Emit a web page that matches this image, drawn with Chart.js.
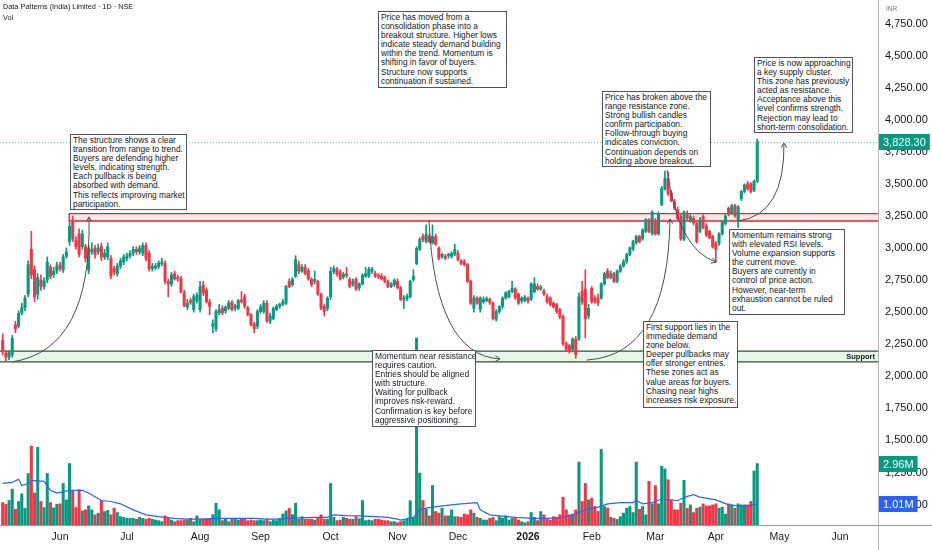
<!DOCTYPE html>
<html>
<head>
<meta charset="utf-8">
<script src="https://cdn.jsdelivr.net/npm/chart.js@4.4.1/dist/chart.umd.min.js"></script>
<style>
  html,body{margin:0;padding:0;background:#fff;}
  #wrap{position:relative;width:932px;height:550px;overflow:hidden;}
  canvas{position:absolute;left:0;top:0;}
  .t{position:absolute;font-family:"Liberation Sans",Arial,sans-serif;color:#131722;white-space:nowrap;}
  .note{position:absolute;box-sizing:border-box;background:#fff;border:1px solid #50535e;
        font-family:"Liberation Sans",Arial,sans-serif;font-size:8.4px;line-height:9.1px;color:#131722;
        padding:1px 2px;white-space:nowrap;}
</style>
</head>
<body>
<div id="wrap">
  <canvas id="c" width="932" height="550"></canvas>
  <div class="t" style="left:3px;top:2px;font-size:7.3px;">Data Patterns (India) Limited · 1D · NSE</div>
  <div class="t" style="left:3px;top:13px;font-size:7.3px;">Vol</div>

  <div class="note" style="left:70px;top:134px;width:117px;height:76px;">The structure shows a clear<br>transition from range to trend.<br>Buyers are defending higher<br>levels, indicating strength.<br>Each pullback is being<br>absorbed with demand.<br>This reflects improving market<br>participation.</div>
  <div class="note" style="left:378px;top:11px;width:129px;height:77px;">Price has moved from a<br>consolidation phase into a<br>breakout structure. Higher lows<br>indicate steady demand building<br>within the trend. Momentum is<br>shifting in favor of buyers.<br>Structure now supports<br>continuation if sustained.</div>
  <div class="note" style="left:602px;top:91px;width:109px;height:76px;">Price has broken above the<br>range resistance zone.<br>Strong bullish candles<br>confirm participation.<br>Follow-through buying<br>indicates conviction.<br>Continuation depends on<br>holding above breakout.</div>
  <div class="note" style="left:754px;top:57px;width:99px;height:76px;">Price is now approaching<br>a key supply cluster.<br>This zone has previously<br>acted as resistance.<br>Acceptance above this<br>level confirms strength.<br>Rejection may lead to<br>short-term consolidation.</div>
  <div class="note" style="left:729px;top:229px;width:116px;height:86px;">Momentum remains strong<br>with elevated RSI levels.<br>Volume expansion supports<br>the current move.<br>Buyers are currently in<br>control of price action.<br>However, near-term<br>exhaustion cannot be ruled<br>out.</div>
  <div class="note" style="left:643px;top:321px;width:95px;height:87px;">First support lies in the<br>immediate demand<br>zone below.<br>Deeper pullbacks may<br>offer stronger entries.<br>These zones act as<br>value areas for buyers.<br>Chasing near highs<br>increases risk exposure.</div>
  <div class="note" style="left:372px;top:350px;width:104px;height:77px;">Momentum near resistance<br>requires caution.<br>Entries should be aligned<br>with structure.<br>Waiting for pullback<br>improves risk-reward.<br>Confirmation is key before<br>aggressive positioning.</div>
</div>
<script>
// ---------------- DATA ----------------
const opens = [2280,2180,2150,2170,2400,2390,2495,2535,2640,2990,2830,2640,2750,2700,2750,2850,2790,2820,2870,2830,
2935,3050,3200,3060,3110,3010,3010,2830,2970,3000,2970,3010,2930,2930,2920,2840,2800,2860,2890,2920,
2940,2960,2990,2970,2960,3020,2960,2840,2845,2855,2880,2880,2740,2720,2800,2770,2760,2650,2540,2590,
2520,2590,2520,2710,2670,2580,2390,2370,2495,2530,2510,2530,2575,2530,2530,2595,2620,2530,2480,2410,
2390,2505,2505,2570,2430,2450,2520,2545,2560,2570,2740,2715,2780,2870,2820,2850,2820,2755,2740,2740,
2640,2545,2530,2620,2817,2835,2817,2775,2800,2755,2715,2755,2690,2720,2780,2780,2820,2805,2790,2780,
2770,2740,2700,2715,2740,2690,2600,2605,2620,2755,2880,2990,3090,3050,3090,3040,3090,3000,2935,2935,
2940,2935,2950,2960,2900,2895,2870,2740,2530,2610,2520,2580,2590,2600,2570,2445,2505,2545,2610,2620,
2660,2680,2640,2590,2590,2610,2600,2660,2700,2680,2665,2620,2610,2570,2560,2520,2466,2255,2240,2210,
2290,2290,2660,2680,2470,2685,2610,2610,2610,2720,2820,2770,2800,2740,2820,2860,2895,2950,2995,3040,
3090,3070,3130,3220,3110,3210,3110,3340,3460,3540,3430,3360,3300,3245,3070,3270,3210,3230,3190,3130,
3245,3170,3130,3090,3040,3040,3110,3190,3310,3270,3330,3210,3385,3440,3500,3500,3450,3520];
const highs = [2330,2200,2200,2320,2430,2510,2570,2630,2900,3130,2860,2800,2790,2770,2930,2870,2850,2890,2890,2950,
3000,3200,3250,3090,3150,3140,3030,3020,3040,3020,3030,3040,2990,3040,2940,2860,2880,2920,2950,2960,
2980,3010,3010,3020,3040,3040,2980,2880,2880,2900,2920,2900,2760,2810,2820,2790,2780,2670,2600,2610,
2640,2650,2740,2740,2690,2600,2440,2520,2560,2550,2550,2590,2590,2560,2600,2660,2640,2545,2490,2420,
2520,2560,2590,2590,2490,2540,2560,2570,2600,2710,2760,2770,2940,2900,2870,2870,2840,2770,2820,2750,
2650,2560,2620,2850,2860,2850,2830,2810,2850,2770,2760,2770,2730,2800,2850,2850,2850,2820,2800,2800,
2780,2750,2730,2760,2760,2700,2630,2640,2750,2830,3010,3080,3110,3180,3110,3180,3110,3010,2960,2950,
2960,2970,3030,2980,2910,2910,2880,2750,2630,2620,2620,2620,2620,2610,2580,2520,2550,2620,2660,2670,
2740,2690,2650,2620,2630,2620,2730,2770,2720,2710,2680,2640,2620,2580,2570,2530,2480,2270,2250,2300,
2310,2650,2740,2830,2560,2700,2630,2640,2730,2810,2840,2820,2810,2830,2870,2910,2960,3010,3060,3100,
3100,3150,3230,3230,3290,3230,3280,3480,3600,3590,3450,3380,3320,3260,3290,3290,3260,3250,3200,3240,
3260,3190,3140,3100,3050,3120,3210,3260,3320,3340,3340,3330,3450,3500,3520,3510,3530,3850];
const lows = [2170,2120,2130,2150,2340,2380,2480,2510,2620,2760,2580,2600,2670,2680,2730,2760,2770,2800,2820,2810,
2920,3020,3050,2990,2930,2990,2890,2800,2950,2920,2950,2900,2910,2910,2760,2790,2780,2840,2870,2900,
2920,2940,2950,2950,2940,2900,2820,2820,2830,2840,2860,2720,2620,2700,2750,2740,2650,2540,2520,2560,
2500,2570,2500,2630,2570,2480,2340,2350,2480,2480,2490,2520,2510,2510,2520,2570,2530,2470,2390,2340,
2370,2490,2490,2420,2410,2440,2510,2530,2550,2560,2690,2700,2770,2800,2810,2790,2750,2700,2720,2630,
2520,2470,2510,2600,2800,2780,2750,2760,2770,2690,2700,2670,2670,2710,2770,2770,2800,2770,2760,2750,
2730,2690,2690,2700,2680,2590,2530,2590,2610,2740,2870,2980,3050,3040,3040,3030,3020,2910,2920,2910,
2920,2920,2940,2900,2870,2860,2730,2560,2500,2560,2500,2570,2580,2560,2440,2430,2490,2530,2600,2610,
2650,2600,2560,2570,2580,2570,2590,2650,2670,2670,2630,2570,2550,2530,2490,2450,2240,2200,2180,2190,
2140,2280,2560,2300,2450,2570,2570,2550,2600,2710,2760,2760,2730,2730,2810,2850,2880,2940,2980,3030,
3040,3060,3120,3120,3100,3100,3100,3330,3450,3410,3360,3300,3220,3060,3060,3220,3200,3180,3040,3120,
3150,3090,3070,3000,2890,3020,3100,3180,3250,3260,3240,3160,3370,3430,3450,3430,3440,3510];
const closes = [2190,2150,2185,2295,2370,2490,2535,2610,2870,2790,2620,2770,2700,2745,2890,2780,2820,2860,2840,2930,
2970,3170,3070,3010,2950,3110,2920,3000,2990,2950,3000,2930,2960,3010,2780,2810,2860,2900,2930,2940,
2960,2990,2970,3000,3020,2920,2840,2855,2860,2885,2890,2740,2720,2790,2760,2760,2660,2550,2570,2575,
2620,2630,2700,2650,2580,2545,2410,2505,2520,2495,2540,2575,2520,2550,2590,2580,2545,2480,2400,2370,
2505,2540,2570,2430,2470,2530,2545,2560,2580,2700,2700,2755,2910,2820,2850,2800,2760,2715,2755,2640,
2530,2505,2610,2817,2840,2795,2760,2795,2785,2700,2740,2680,2720,2790,2800,2835,2835,2780,2780,2760,
2740,2700,2720,2750,2690,2600,2610,2625,2740,2780,2995,3065,3065,3105,3050,3090,3030,2920,2950,2920,
2950,2960,2990,2910,2880,2870,2740,2570,2610,2570,2610,2600,2605,2575,2450,2505,2545,2610,2650,2660,
2685,2610,2570,2610,2615,2585,2720,2720,2680,2695,2640,2580,2560,2540,2505,2465,2250,2210,2195,2290,
2170,2620,2580,2450,2530,2580,2585,2570,2720,2800,2770,2800,2740,2820,2860,2895,2950,3000,3050,3090,
3050,3140,3220,3130,3280,3110,3270,3465,3540,3425,3370,3310,3230,3070,3280,3235,3245,3195,3050,3220,
3160,3100,3080,3010,2990,3110,3200,3250,3265,3330,3250,3320,3440,3490,3460,3440,3520,3828.3];
// volume in millions
const volume = [1.08,1.0,1.18,1.73,0.76,1.13,1.5,0.8,2.48,3.8,1.54,3.74,1.13,0.84,2.48,1.08,0.83,1.0,1.02,2.0,
1.21,2.96,1.62,0.84,1.7,0.68,0.73,0.92,0.73,0.49,0.57,1.18,0.65,0.7,0.49,0.81,0.6,0.4,0.37,0.32,
0.32,0.32,0.28,0.37,0.32,0.28,0.32,0.28,0.24,0.21,0.16,0.44,0.37,0.24,0.16,0.21,0.21,0.24,0.24,0.32,
0.16,0.44,0.28,0.28,0.28,0.3,0.5,1.05,0.73,0.21,0.28,0.16,0.28,0.28,0.24,0.28,0.28,0.21,0.24,0.21,
0.21,0.24,0.21,0.28,0.16,0.24,0.21,0.32,0.53,0.68,0.8,0.5,1.05,0.28,0.4,0.28,0.28,0.28,0.24,0.32,
0.49,0.28,0.28,2.0,0.37,0.21,0.24,0.37,0.32,0.28,0.28,0.4,0.3,1.18,0.21,0.24,0.21,0.28,0.28,0.24,
0.21,0.21,0.16,0.16,0.11,0.16,0.21,0.28,1.17,0.37,9.0,2.5,1.18,0.76,0.44,1.9,0.65,0.57,0.81,0.44,
0.44,0.73,0.4,0.4,0.37,0.53,0.49,0.73,0.57,0.37,0.32,0.24,0.24,0.32,0.37,0.21,0.4,0.32,0.44,0.24,
0.32,0.37,0.24,0.16,0.11,0.16,0.6,0.37,0.21,0.65,0.49,0.32,0.24,0.4,0.37,0.5,1.34,0.73,0.49,0.53,
0.73,3.03,1.13,2.0,1.21,1.29,0.89,0.65,3.64,0.89,0.81,0.37,0.32,0.27,0.4,0.57,0.81,0.89,0.6,3.03,
0.76,0.89,0.49,2.1,1.02,1.9,1.02,2.83,2.7,2.18,1.21,0.73,0.73,1.05,2.15,0.81,0.97,0.6,0.81,0.86,
1.02,0.92,0.92,0.97,1.02,0.81,0.86,0.53,1.02,0.97,0.81,1.02,0.97,0.97,0.97,1.13,2.6,2.96];
// volume moving average (read at these candle indices)
const maIdx = [0,3,5,6,8,9,13,15,17,21,25,27,31,34,37,41,45,49,54,58,62,66,70,75,79,83,87,89,93,98,
102,104,108,112,117,121,124,125,129,131,133,138,144,149,150,153,156,161,167,171,176,179,183,187,190,194,198,199,201,204,
207,212,215,217,219,224,228,231,234,237];
const maVal = [2.0,2.05,2.2,1.9,2.0,2.15,2.1,1.67,1.54,1.67,1.67,1.54,1.18,1.13,1.02,0.73,0.49,0.4,0.32,0.28,
0.28,0.31,0.32,0.32,0.32,0.28,0.28,0.32,0.34,0.37,0.37,0.49,0.45,0.44,0.4,0.37,0.28,0.24,0.37,0.73,
0.81,0.92,1.02,1.08,0.73,0.49,0.44,0.37,0.32,0.32,0.37,0.49,0.73,0.86,1.02,1.08,1.08,1.18,1.02,1.08,
1.25,1.18,1.38,1.46,1.34,1.21,0.97,0.92,0.92,1.01];
// time axis labels at candle index
const monthIdx = [18,39,62,81,103,124,143,165,185,205,224,244,263];
const monthLabels = ['Jun','Jul','Aug','Sep','Oct','Nov','Dec','2026','Feb','Mar','Apr','May','Jun'];
// price ticks
const priceTicks = [1000,1250,1500,1750,2000,2250,2500,2750,3000,3250,3500,3750,4000,4250,4500,4750];
// zones (price levels)
const resistZone = {fromIdx: 20.9, top: 3268, bottom: 3211};
const supportZone = {top: 2196, bottom: 2112};
// curved arrows in (candle index, price): start, control, end
const arrows = [
  [[2.9,2112],[28.1,2205],[27.1,3242]],
  [[133.9,3218],[135.8,2166],[156.2,2135]],
  [[183.5,2127],[209.0,2166],[209.6,3226]],
  [[208.7,3608],[212.1,2985],[224.1,2891]],
  [[231.0,3211],[245.7,3257],[245.4,3818]]
];
// ---------------- CHART ----------------
const UP = '#089981', DOWN = '#f23645';
const FONT = '"Liberation Sans", Arial, sans-serif';
const N = closes.length;
const idx = Array.from({length: N}, (_, i) => i);
const candleColor = (c) => closes[c.dataIndex] >= opens[c.dataIndex] ? UP : DOWN;
const noPad = (s) => { s.paddingTop = 0; s.paddingBottom = 0; s.paddingLeft = 0; s.paddingRight = 0; };

const overlay = {
  id: 'overlay',
  beforeDatasetsDraw(chart) {
    const {ctx, chartArea: a, scales: {x, y}} = chart;
    ctx.save();
    // support zone
    let t = y.getPixelForValue(supportZone.top), b = y.getPixelForValue(supportZone.bottom);
    ctx.fillStyle = 'rgba(76,175,80,0.13)';
    ctx.fillRect(a.left, t, a.right - a.left, b - t);
    ctx.strokeStyle = '#1e5e2a'; ctx.lineWidth = 1.2;
    ctx.beginPath(); ctx.moveTo(a.left, t); ctx.lineTo(a.right, t); ctx.moveTo(a.left, b); ctx.lineTo(a.right, b); ctx.stroke();
    // resistance zone
    const l = x.getPixelForValue(resistZone.fromIdx);
    t = y.getPixelForValue(resistZone.top); b = y.getPixelForValue(resistZone.bottom);
    ctx.fillStyle = 'rgba(242,54,69,0.10)';
    ctx.fillRect(l, t, a.right - l, b - t);
    ctx.strokeStyle = '#f01e2c'; ctx.lineWidth = 1.4;
    ctx.beginPath(); ctx.moveTo(a.right, t); ctx.lineTo(l, t); ctx.lineTo(l, b); ctx.lineTo(a.right, b); ctx.stroke();
    ctx.restore();
  },
  afterDatasetsDraw(chart) {
    const {ctx, chartArea: a, scales: {x, y}} = chart;
    ctx.save();
    // last price dotted line
    const ly = Math.round(y.getPixelForValue(closes[N - 1])) + 0.5;
    ctx.strokeStyle = 'rgba(8,153,129,0.55)'; ctx.lineWidth = 1; ctx.setLineDash([1, 2]);
    ctx.beginPath(); ctx.moveTo(a.left, ly); ctx.lineTo(a.right, ly); ctx.stroke();
    ctx.setLineDash([]);
    // Support label
    const sm = (y.getPixelForValue(supportZone.top) + y.getPixelForValue(supportZone.bottom)) / 2;
    ctx.font = 'bold 7.5px ' + FONT; ctx.fillStyle = '#131722'; ctx.textAlign = 'right'; ctx.textBaseline = 'middle';
    ctx.fillText('Support', a.right - 3, sm + 0.5);
    // arrows
    ctx.strokeStyle = '#4a4d57'; ctx.lineWidth = 1;
    arrows.forEach(([p0, c, p2]) => {
      const P0 = [x.getPixelForValue(p0[0]), y.getPixelForValue(p0[1])];
      const C = [x.getPixelForValue(c[0]), y.getPixelForValue(c[1])];
      const P2 = [x.getPixelForValue(p2[0]), y.getPixelForValue(p2[1])];
      ctx.beginPath(); ctx.moveTo(P0[0], P0[1]); ctx.quadraticCurveTo(C[0], C[1], P2[0], P2[1]); ctx.stroke();
      const ang = Math.atan2(P2[1] - C[1], P2[0] - C[0]);
      const L = 5.5;
      ctx.beginPath();
      ctx.moveTo(P2[0] - L * Math.cos(ang - 0.55), P2[1] - L * Math.sin(ang - 0.55));
      ctx.lineTo(P2[0], P2[1]);
      ctx.lineTo(P2[0] - L * Math.cos(ang + 0.55), P2[1] - L * Math.sin(ang + 0.55));
      ctx.stroke();
    });
    ctx.restore();
  },
  afterDraw(chart) {
    const {ctx, chartArea: a, scales: {y, yv}} = chart;
    ctx.save();
    // extend frame lines
    ctx.strokeStyle = '#9598a1'; ctx.lineWidth = 1;
    ctx.beginPath(); ctx.moveTo(a.right, a.bottom + 0.5); ctx.lineTo(932, a.bottom + 0.5); ctx.stroke();
    ctx.strokeStyle = '#b2b5be';
    ctx.beginPath(); ctx.moveTo(a.right + 0.5, a.bottom); ctx.lineTo(a.right + 0.5, 550); ctx.stroke();
    // axis tags
    const tag = (py, text, bg) => {
      ctx.font = '11px ' + FONT;
      const w = ctx.measureText(text).width + 8;
      ctx.fillStyle = bg;
      ctx.fillRect(a.right + 1, Math.round(py) - 8, w, 16);
      ctx.fillStyle = '#ffffff'; ctx.textAlign = 'left'; ctx.textBaseline = 'middle';
      ctx.fillText(text, a.right + 5, Math.round(py) + 0.5);
    };
    tag(y.getPixelForValue(closes[N - 1]), closes[N - 1].toLocaleString('en-US', {minimumFractionDigits: 2, maximumFractionDigits: 2}), UP);
    tag(yv.getPixelForValue(volume[N - 1]), volume[N - 1].toFixed(2) + 'M', UP);
    tag(yv.getPixelForValue(maVal[maVal.length - 1]), maVal[maVal.length - 1].toFixed(2) + 'M', '#2962ff');
    // currency
    ctx.font = '6.5px ' + FONT; ctx.fillStyle = '#787b86'; ctx.textAlign = 'left'; ctx.textBaseline = 'middle';
    ctx.fillText('INR', a.right + 8, 9);
    ctx.restore();
  }
};

new Chart(document.getElementById('c'), {
  type: 'bar',
  data: {
    datasets: [
      {label: 'body', data: idx.map(i => ({x: i, y: [opens[i], closes[i]]})), backgroundColor: candleColor,
       barThickness: 2.4, grouped: false, order: 0, yAxisID: 'y'},
      {label: 'wick', data: idx.map(i => ({x: i, y: [lows[i], highs[i]]})), backgroundColor: candleColor,
       barThickness: 1, grouped: false, order: 1, yAxisID: 'y'},
      {type: 'line', label: 'volMA', data: maIdx.map((v, k) => ({x: v, y: maVal[k]})), borderColor: '#2962ff',
       borderWidth: 1.2, pointRadius: 0, tension: 0, yAxisID: 'yv', order: 2},
      {label: 'volume', data: idx.map(i => ({x: i, y: volume[i]})), backgroundColor: candleColor,
       barThickness: 2.4, grouped: false, order: 3, yAxisID: 'yv'}
    ]
  },
  options: {
    responsive: false,
    animation: false,
    layout: {padding: 0},
    plugins: {legend: {display: false}, tooltip: {enabled: false}},
    scales: {
      x: {
        type: 'linear', min: -0.846, max: 274.93, offset: false,
        grid: {display: false, drawTicks: false},
        border: {display: true, color: '#9598a1'},
        afterFit: (s) => { s.height = 25; noPad(s); },
        afterBuildTicks: (s) => { s.ticks = monthIdx.map(v => ({value: v})); },
        ticks: {
          autoSkip: false, maxRotation: 0, padding: 6, color: '#131722',
          font: (c) => ({family: FONT, size: 10.5, weight: (c.tick && c.tick.label === '2026') ? 'bold' : 'normal'}),
          callback: (v) => monthLabels[monthIdx.indexOf(v)]
        }
      },
      y: {
        type: 'linear', position: 'right', min: 841, max: 4933,
        grid: {display: false, drawTicks: false},
        border: {display: true, color: '#b2b5be'},
        afterFit: (s) => { s.width = 54; noPad(s); },
        afterBuildTicks: (s) => { s.ticks = priceTicks.map(v => ({value: v})); },
        ticks: {
          padding: 7, color: '#131722', font: {family: FONT, size: 11},
          callback: (v) => Number(v).toLocaleString('en-US', {minimumFractionDigits: 2, maximumFractionDigits: 2})
        }
      },
      yv: {type: 'linear', display: false, min: 0, max: 25.27}
    }
  },
  plugins: [overlay]
});
</script>
</body>
</html>
